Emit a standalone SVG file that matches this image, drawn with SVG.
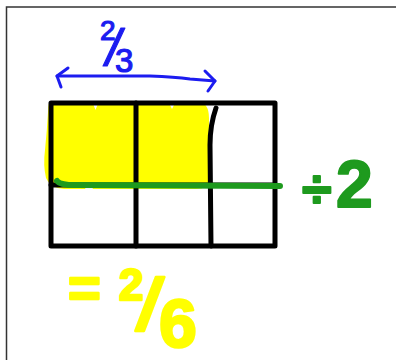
<svg xmlns="http://www.w3.org/2000/svg" width="396" height="360" viewBox="0 0 396 360">
<style>
.ink{fill:none;stroke-linecap:round;stroke-linejoin:round}
.blk{stroke:#000;stroke-width:5}
.blue{stroke:#1c1cf0;stroke-width:3}
.hand{font-family:"Liberation Sans",Arial,sans-serif;stroke-linejoin:round}
</style>
<rect width="396" height="360" fill="#fff"/>
<path d="M6.5 360 V7 H396" fill="none" stroke="#333" stroke-width="1.5"/>
<g id="shading">
<path d="M52 101 H198 Q209 103 209 118 L209 180 Q208 189 196 189 L64 189 Q50 188 46 178 Q43 165 45 150 Q47 130 48 112 Q48 101 52 101 Z" fill="#ffff00"/>
<path d="M92 101 L99 101 L95.5 110 Z M168 101 L176 101 L172 109 Z M85 189 L93 189 L89 182 Z" fill="#fff"/>
</g>
<g id="grid">
<rect x="51" y="103" width="224" height="143" class="ink blk"/>
<path d="M136 103 V246" class="ink blk"/>
<path d="M216 108 Q210 125 210 145 L211 246" class="ink blk"/>
<path d="M51 185 H275" class="ink blk"/>
</g>
<g id="connectors">
<path d="M57 76 L150 76 Q175 77 190 79 L215 81" class="ink blue"/>
<path d="M68 68 L57 76 L61 87" class="ink blue"/>
<path d="M205 71 L215 81 L208 91" class="ink blue"/>
</g>
<g id="divide-line">
<path d="M57 181 Q60 185 75 185 L280 186" class="ink" stroke="#1e9a1e" stroke-width="6"/>
</g>
<g id="label-two-thirds">
<text class="hand" fill="#1c1cf0" stroke="#1c1cf0" stroke-width="1.2"><tspan x="100" y="40" font-size="28">2</tspan><tspan x="106" y="66" font-size="52" font-style="italic">/</tspan><tspan x="115" y="72" font-size="33">3</tspan></text>
</g>
<g id="label-divide-two">
<text class="hand" fill="#1e9a1e" stroke="#1e9a1e" stroke-width="2" font-weight="bold"><tspan x="302" y="207" font-size="54">÷</tspan><tspan x="336" y="207" font-size="66">2</tspan></text>
</g>
<g id="label-two-sixths">
<text class="hand" fill="#ffff00" stroke="#ffff00" stroke-width="2.5" font-weight="bold"><tspan x="68" y="307" font-size="56">=</tspan><tspan x="119" y="300" font-size="44">2</tspan><tspan x="138" y="330" font-size="72" font-style="italic">/</tspan><tspan x="159" y="347" font-size="68">6</tspan></text>
</g>
</svg>
